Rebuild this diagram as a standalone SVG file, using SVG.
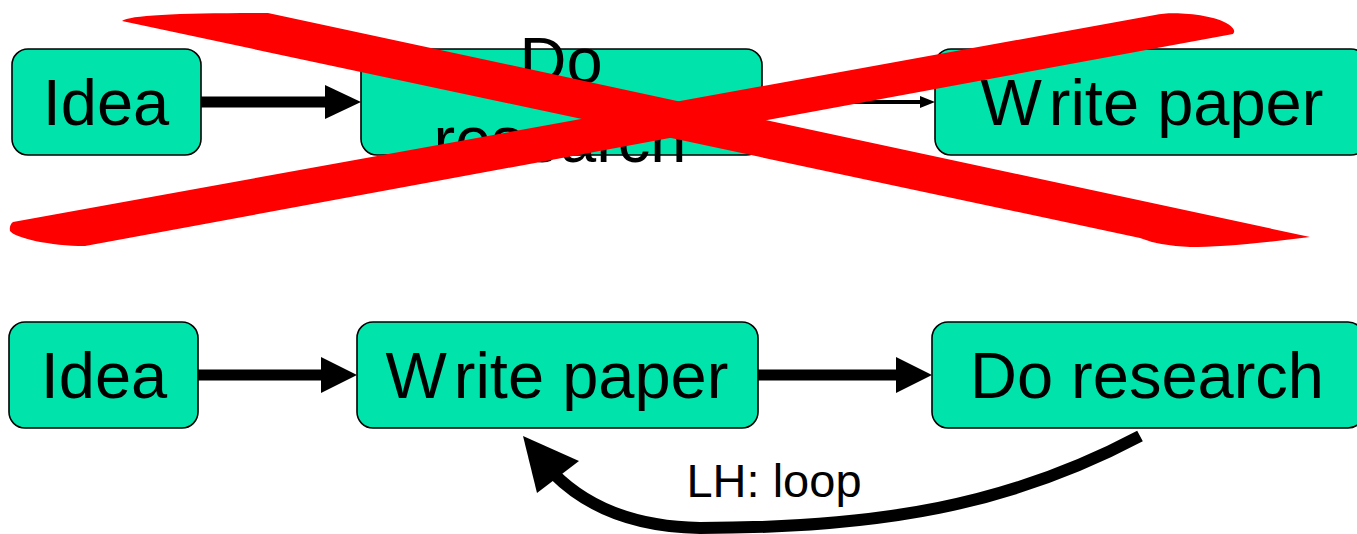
<svg xmlns="http://www.w3.org/2000/svg" width="1357" height="534" viewBox="0 0 1357 534">
<style>
.box{fill:#00E3AA;stroke:#000;stroke-width:1.6}
.lbl{font-family:"Liberation Sans",Arial,sans-serif;font-size:65px;fill:#000;text-anchor:middle}
.edge{stroke:#000;fill:none}
.head{fill:#000}
.x{fill:#FF0000}
</style>
<rect width="1357" height="534" fill="#fff"/>
<g id="connectors">
<line class="edge" x1="201" y1="102" x2="327" y2="102" stroke-width="11"/>
<polygon class="head" points="325,85 361,102 325,119"/>
<line class="edge" x1="762" y1="102" x2="921" y2="102" stroke-width="4"/>
<polygon class="head" points="920,96 935,102 920,108"/>
<line class="edge" x1="198" y1="375" x2="323" y2="375" stroke-width="11"/>
<polygon class="head" points="321,357 357,375 321,393"/>
<line class="edge" x1="758" y1="375" x2="898" y2="375" stroke-width="11"/>
<polygon class="head" points="896,357 932,375 896,393"/>
<path class="edge" d="M1140,436 C1010,505 880,528 700,528 C640,527 590,510 554,474" stroke-width="12"/>
<polygon class="head" points="523,436 579,461 537,493"/>
<text x="774" y="497" font-family="Liberation Sans,Arial,sans-serif" font-size="47" text-anchor="middle">LH: loop</text>
</g>
<g id="top-idea">
<rect class="box" x="12" y="49" width="189" height="106" rx="16"/>
<text class="lbl" x="106" y="125">Idea</text>
</g>
<g id="top-do-research">
<rect class="box" x="361" y="49" width="401" height="106" rx="16"/>
<text class="lbl" x="561" y="83">Do</text>
<text class="lbl" x="560" y="162">research</text>
</g>
<g id="top-write-paper">
<rect class="box" x="935" y="49" width="432" height="106" rx="16"/>
<text class="lbl" x="1152" y="125">W<tspan dx="8">rite paper</tspan></text>
</g>
<g id="bottom-idea">
<rect class="box" x="9" y="322" width="189" height="106" rx="16"/>
<text class="lbl" x="104" y="398">Idea</text>
</g>
<g id="bottom-write-paper">
<rect class="box" x="357" y="322" width="401" height="106" rx="16"/>
<text class="lbl" x="557" y="398">W<tspan dx="8">rite paper</tspan></text>
</g>
<g id="bottom-do-research">
<rect class="box" x="932" y="322" width="432" height="106" rx="16"/>
<text class="lbl" x="1147" y="398">Do research</text>
</g>
<g id="cross">
<path class="x" d="M122,21 C130,15 180,13 268,13 L1310,237 Q1230,247 1190,247 Q1160,246 1140,238 Z"/>
<path class="x" d="M13,222 L1155,15 C1172,11 1212,14 1228,24 Q1237,30 1233,34 L85,246 C50,246 15,238 10,231 Q9,225 13,222 Z"/>
</g>
</svg>
